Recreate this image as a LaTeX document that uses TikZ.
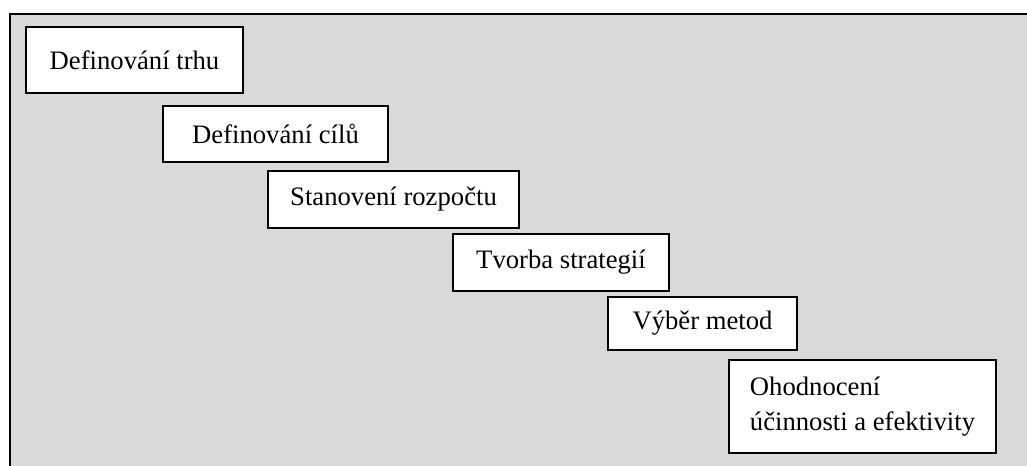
\documentclass[tikz,border=0pt]{standalone}
\usepackage{fontspec}
\setmainfont{Liberation Serif}
\definecolor{panelgray}{HTML}{D9D9D9}
\tikzset{
	stage box/.style={
		draw,
		fill=white,
		line width=1.2pt,
		inner sep=+0pt,
		font=\fontsize{20}{26}\selectfont
	}
}

\begin{document}
\begin{tikzpicture}[x=0.75pt,y=-0.75pt]

\useasboundingbox (0,0) rectangle (1027,466);
\clip (0,0) rectangle (1027,466);

% gray panel, cut off on the right and at the bottom
\draw[fill=panelgray,line width=1.5pt] (10,14) rectangle (1040,480);

\node[stage box,minimum width=162.75pt,minimum height=49.5pt]  (trh)      at (134.5,60)   {Definování trhu};
\node[stage box,minimum width=168.75pt,minimum height=42pt]    (cile)     at (275.5,134)  {Definování cílů};
\node[stage box,minimum width=188.25pt,minimum height=42.75pt] (rozpocet) at (393.5,199.5) {Stanovení rozpočtu};
\node[stage box,minimum width=162pt,minimum height=42.75pt]    (strategie) at (561,262.5) {Tvorba strategií};
\node[stage box,minimum width=141.75pt,minimum height=39.75pt] (metody)   at (702.5,323.5) {Výběr metod};
\node[stage box,minimum width=200.25pt,minimum height=69.75pt,align=left] (hodnoceni) at (862.5,406.5)
	{Ohodnocení\\účinnosti a efektivity};

\end{tikzpicture}
\end{document}
